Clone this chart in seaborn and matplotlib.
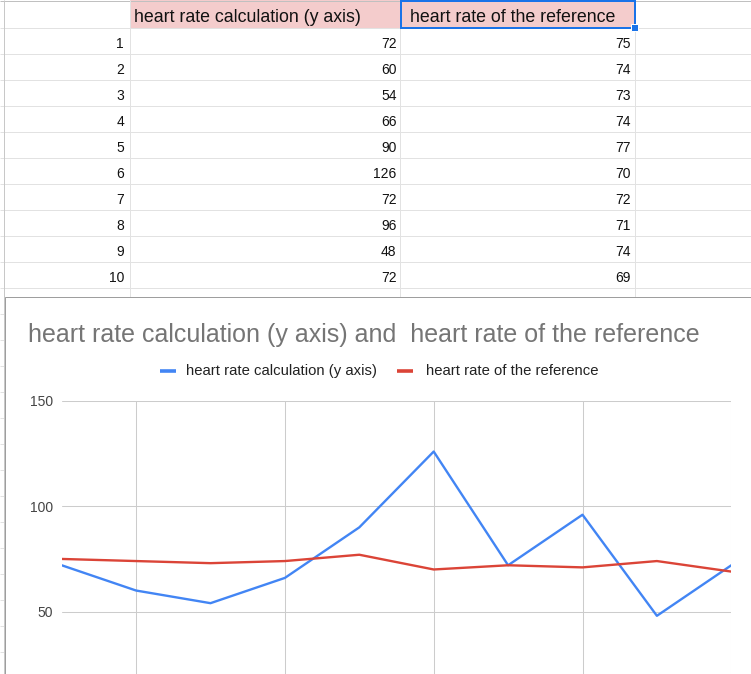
import numpy as np
import pandas as pd
import seaborn as sns
import matplotlib
matplotlib.use("Agg")
import matplotlib.pyplot as plt
from matplotlib.lines import Line2D
from matplotlib.patches import Rectangle

# ---------------- data ----------------
sample = [1, 2, 3, 4, 5, 6, 7, 8, 9, 10]
calc_hr = [72, 60, 54, 66, 90, 126, 72, 96, 48, 72]
ref_hr = [75, 74, 73, 74, 77, 70, 72, 71, 74, 69]
col_headers = ["heart rate calculation (y axis)", "heart rate of the reference"]
chart_title = "heart rate calculation (y axis) and  heart rate of the reference"
y_ticks = [50, 100, 150]
x_grid = [2, 4, 6, 8, 10]

BLUE = "#4285f4"
RED = "#db4437"

sns.set_theme(style="white")
plt.rcParams["font.family"] = ["Liberation Sans", "DejaVu Sans"]

W, H = 751, 674
fig = plt.figure(figsize=(W / 100, H / 100), dpi=100)
PX = 0.72  # points per pixel


def fx(x):
    return x / W


def fy(y):
    return 1 - y / H


def line(xs, ys, color, lw=1.0, z=2):
    fig.add_artist(Line2D([fx(v) for v in xs], [fy(v) for v in ys], color=color,
                          lw=lw * PX, transform=fig.transFigure, zorder=z,
                          solid_capstyle="butt"))


def rect(x0, y0, x1, y1, fc, ec="none", lw=1.0, z=1):
    fig.add_artist(Rectangle((fx(x0), fy(y1)), fx(x1) - fx(x0), (y1 - y0) / H,
                             facecolor=fc, edgecolor=ec, lw=lw * PX,
                             transform=fig.transFigure, zorder=z))


# ---------------- spreadsheet ----------------
GRID = "#e2e2e2"
rect(130, 0, 635, 28, "#f4cccc", z=1)
line([0, W], [0.5, 0.5], "#c0c0c0", 1, z=2)
row_top = 28
row_h = 26
for k in range(0, 26):
    y = row_top + k * row_h
    line([0, W], [y, y], GRID, 1, z=2)
for x in [130, 400, 635]:
    line([x, x], [0, H], GRID, 1, z=2)
line([3.5, 3.5], [0, H], "#c8c8c8", 1, z=2)

# header texts
fig.text(fx(134), fy(21.7), col_headers[0], fontsize=12.8, color="#111111",
         ha="left", va="baseline", zorder=3)
fig.text(fx(410), fy(21.7), col_headers[1], fontsize=12.8, color="#111111",
         ha="left", va="baseline", zorder=3)
# selected cell border
rect(400.5, 1.5, 634.5, 28, "none", ec="#1a73e8", lw=2, z=3)
rect(631, 24, 638, 31, "#1a73e8", ec="white", lw=1, z=4)

for i, (s, a, b) in enumerate(zip(sample, calc_hr, ref_hr)):
    yb = row_top + i * row_h + 19.7
    fig.text(fx(124), fy(yb), str(s), fontsize=10, color="#111111",
             ha="right", va="baseline", zorder=3)
    fig.text(fx(396.5), fy(yb), str(a), fontsize=10, color="#111111",
             ha="right", va="baseline", zorder=3)
    fig.text(fx(631), fy(yb), str(b), fontsize=10, color="#111111",
             ha="right", va="baseline", zorder=3)

# ---------------- chart ----------------
rect(4.5, 296.5, 770, 700, "white", ec="#9e9e9e", lw=1, z=5)
fig.text(fx(28), fy(341.7), chart_title, fontsize=18, color="#757575",
         ha="left", va="baseline", zorder=6)

# legend
line([160, 176], [370.8, 370.8], BLUE, 3.6, z=6)
fig.text(fx(186), fy(375), col_headers[0], fontsize=10.7, color="#222222",
         ha="left", va="baseline", zorder=6)
line([397, 413], [370.8, 370.8], RED, 3.6, z=6)
fig.text(fx(426), fy(375), col_headers[1], fontsize=10.7, color="#222222",
         ha="left", va="baseline", zorder=6)

ax_l, ax_r, ax_t, ax_b = 61.7, 731.3, 401.0, 716.9
ax = fig.add_axes([fx(ax_l), (H - ax_b) / H, (ax_r - ax_l) / W, (ax_b - ax_t) / H])
ax.set_zorder(10)
ax.patch.set_alpha(0)

df = pd.DataFrame({"sample": sample, "calc": calc_hr, "ref": ref_hr})
sns.lineplot(data=df, x="sample", y="calc", ax=ax, color=BLUE, lw=1.7)
sns.lineplot(data=df, x="sample", y="ref", ax=ax, color=RED, lw=1.7)

ax.set_xlim(1, 10)
ax.set_ylim(0, 150)
ax.set_xticks(x_grid)
ax.set_xticklabels([])
ax.set_yticks(y_ticks)
ax.set_yticklabels([str(v) for v in y_ticks])
ax.grid(True, color="#cccccc", lw=0.75)
ax.set_axisbelow(True)
for sp in ax.spines.values():
    sp.set_visible(False)
ax.tick_params(length=0, labelsize=10, labelcolor="#444444", pad=6.3)
ax.set_xlabel("")
ax.set_ylabel("")

fig.savefig("out.png", dpi=100)
